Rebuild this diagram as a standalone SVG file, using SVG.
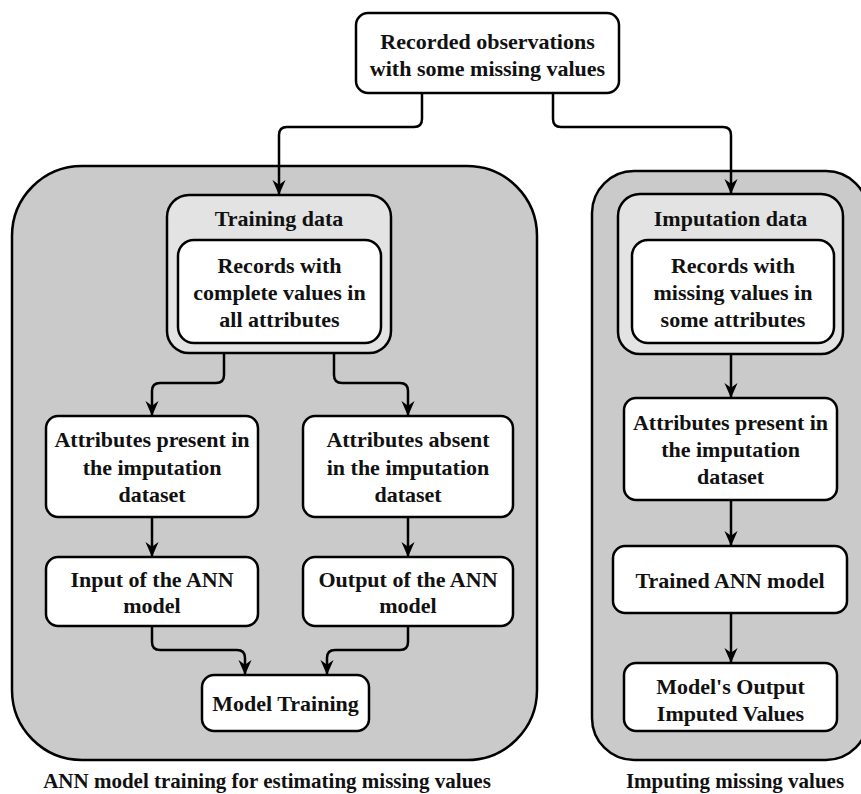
<svg xmlns="http://www.w3.org/2000/svg" width="861" height="794" viewBox="0 0 861 794">
<defs>
<style>
.panel{fill:#cacaca;stroke:#000;stroke-width:2.5}
.grp{fill:#e3e3e3;stroke:#000;stroke-width:2.5}
.node{fill:#fff;stroke:#000;stroke-width:2.5}
.t{font-family:"Liberation Serif","Times New Roman",serif;font-weight:bold;font-size:22px;fill:#111;text-anchor:middle}
.cap{font-size:21px}
.c{fill:none;stroke:#000;stroke-width:2.5;marker-end:url(#ah)}
</style>
<marker id="ah" viewBox="0 0 16 16" refX="15" refY="8" markerWidth="15" markerHeight="15" markerUnits="userSpaceOnUse" orient="auto">
<path d="M0,1 L16,8 L0,15 L5,8 Z" fill="#000"/>
</marker>
</defs>
<rect width="861" height="794" fill="#fff"/>
<g id="panel-training">
<rect class="panel" x="12" y="166" width="525" height="594" rx="70"/>
<text class="t cap" x="267" y="788">ANN model training for estimating missing values</text>
</g>
<g id="panel-imputing">
<rect class="panel" x="592" y="171" width="276" height="589" rx="42"/>
<text class="t cap" x="735" y="788">Imputing missing values</text>
</g>
<g id="recorded">
<rect class="node" x="356" y="13" width="263" height="80" rx="12"/>
<text class="t" x="487.5" y="49">Recorded observations</text>
<text class="t" x="487.5" y="76">with some missing values</text>
</g>
<g id="training-data">
<rect class="grp" x="167" y="195" width="224" height="158" rx="22"/>
<text class="t" x="279" y="226">Training data</text>
<rect class="node" x="178" y="240" width="203" height="103" rx="16"/>
<text class="t" x="279.5" y="273">Records with</text>
<text class="t" x="279.5" y="300">complete values in</text>
<text class="t" x="279.5" y="327">all attributes</text>
</g>
<g id="imputation-data">
<rect class="grp" x="618" y="194" width="225" height="160" rx="22"/>
<text class="t" x="730.5" y="226">Imputation data</text>
<rect class="node" x="632" y="240" width="202" height="103" rx="16"/>
<text class="t" x="733" y="273">Records with</text>
<text class="t" x="733" y="300">missing values in</text>
<text class="t" x="733" y="327">some attributes</text>
</g>
<g id="attr-present-train">
<rect class="node" x="46" y="416" width="212" height="101" rx="12"/>
<text class="t" x="152" y="447">Attributes present in</text>
<text class="t" x="152" y="475">the imputation</text>
<text class="t" x="152" y="502">dataset</text>
</g>
<g id="attr-absent">
<rect class="node" x="303" y="416" width="210" height="101" rx="12"/>
<text class="t" x="408" y="447">Attributes absent</text>
<text class="t" x="408" y="475">in the imputation</text>
<text class="t" x="408" y="502">dataset</text>
</g>
<g id="input-ann">
<rect class="node" x="46" y="557" width="212" height="69" rx="12"/>
<text class="t" x="152" y="587">Input of the ANN</text>
<text class="t" x="152" y="613">model</text>
</g>
<g id="output-ann">
<rect class="node" x="303" y="557" width="210" height="69" rx="12"/>
<text class="t" x="408" y="587">Output of the ANN</text>
<text class="t" x="408" y="613">model</text>
</g>
<g id="model-training">
<rect class="node" x="202" y="675" width="167" height="56" rx="12"/>
<text class="t" x="285.5" y="711">Model Training</text>
</g>
<g id="attr-present-impute">
<rect class="node" x="624" y="398" width="213" height="102" rx="12"/>
<text class="t" x="730.5" y="430">Attributes present in</text>
<text class="t" x="730.5" y="457">the imputation</text>
<text class="t" x="730.5" y="484">dataset</text>
</g>
<g id="trained-ann">
<rect class="node" x="613" y="546" width="234" height="67" rx="12"/>
<text class="t" x="730" y="588">Trained ANN model</text>
</g>
<g id="model-output">
<rect class="node" x="624" y="663" width="213" height="68" rx="12"/>
<text class="t" x="730.5" y="694">Model's Output</text>
<text class="t" x="730.5" y="721">Imputed Values</text>
</g>
<g id="connectors">
<path class="c" d="M422,93 V119 Q422,127 414,127 H287 Q279,127 279,135 V194"/>
<path class="c" d="M553,93 V119 Q553,127 561,127 H723 Q731,127 731,135 V193"/>
<path class="c" d="M224,353 V375 Q224,383 216,383 H160 Q152,383 152,391 V415"/>
<path class="c" d="M334,353 V375 Q334,383 342,383 H400 Q408,383 408,391 V415"/>
<path class="c" d="M152,517 V556"/>
<path class="c" d="M408,517 V556"/>
<path class="c" d="M152,626 V642 Q152,650 160,650 H237 Q245,650 245,658 V674"/>
<path class="c" d="M408,626 V642 Q408,650 400,650 H335 Q327,650 327,658 V674"/>
<path class="c" d="M731,354 V397"/>
<path class="c" d="M731,500 V545"/>
<path class="c" d="M731,613 V662"/>
</g>
</svg>
